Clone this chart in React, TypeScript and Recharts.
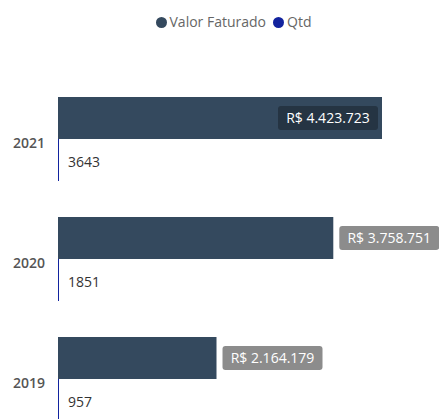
import { BarChart, Bar, XAxis, YAxis, LabelList } from 'recharts'

const years = ['2021', '2020', '2019']
const valorFaturado = [4423723, 3758751, 2164179]
const qtd = [3643, 1851, 957]

const data = years.map((year, i) => ({ year, valor: valorFaturado[i], qtd: qtd[i] }))

const W = 439
const FONT = '"Open Sans", "Noto Sans", sans-serif'
const VALOR_COLOR = '#34495e'
const QTD_COLOR = '#12239e'

const brl = (v: number) => 'R$ ' + String(v).replace(/\B(?=(\d{3})+(?!\d))/g, '.')

function ValorLabel(props: any) {
  const { x, y, width, height, value } = props
  const boxW = 100
  const boxH = 24
  const end = x + width
  const inside = end + 6 + boxW > W + 5
  const bx = inside ? end - 4 - boxW : end + 6
  const by = y + height / 2 - boxH / 2
  return (
    <g>
      <rect x={bx} y={by} width={boxW} height={boxH} rx={3} fill={inside ? '#253443' : '#8c8c8c'} />
      <text
        x={bx + boxW / 2}
        y={y + height / 2}
        dy="0.35em"
        textAnchor="middle"
        fill="#fff"
        fontSize={14}
        fontFamily={FONT}
      >
        {brl(value)}
      </text>
    </g>
  )
}

function ChartLegend() {
  const items = [
    { name: 'Valor Faturado', color: VALOR_COLOR },
    { name: 'Qtd', color: QTD_COLOR },
  ]
  return (
    <div
      style={{
        position: 'absolute',
        top: 12,
        left: 14,
        width: W,
        display: 'flex',
        justifyContent: 'center',
        gap: 7,
        fontFamily: FONT,
        fontSize: 14,
        color: '#666',
        lineHeight: '20px',
      }}
    >
      {items.map((it) => (
        <span key={it.name} style={{ display: 'flex', alignItems: 'center', gap: 3 }}>
          <span style={{ width: 11, height: 11, borderRadius: '50%', background: it.color, display: 'inline-block' }} />
          {it.name}
        </span>
      ))}
    </div>
  )
}

export default function App() {
  return (
    <div style={{ position: 'absolute', left: 0, top: 0, width: W, height: 419, overflow: 'hidden', background: '#fff' }}>
      <ChartLegend />
      <BarChart
        width={W}
        height={440}
        data={data}
        layout="vertical"
        margin={{ top: 79, right: 57, bottom: 1, left: 0 }}
        barGap={0}
        barCategoryGap={18}
      >
        <XAxis type="number" hide domain={[0, 'dataMax']} />
        <YAxis
          type="category"
          dataKey="year"
          width={58}
          axisLine={false}
          tickLine={false}
          tickMargin={7}
          tick={{ fill: '#555', fontSize: 14, fontWeight: 600, fontFamily: FONT, dy: 4 }}
        />
        <Bar dataKey="valor" name="Valor Faturado" fill={VALOR_COLOR} barSize={42} isAnimationActive={false}>
          <LabelList dataKey="valor" content={<ValorLabel />} />
        </Bar>
        <Bar dataKey="qtd" name="Qtd" fill={QTD_COLOR} barSize={42} minPointSize={1} isAnimationActive={false}>
          <LabelList
            dataKey="qtd"
            position="right"
            offset={9}
            dy={2}
            fill="#333"
            fontSize={14}
            fontFamily={FONT}
          />
        </Bar>
      </BarChart>
    </div>
  )
}
